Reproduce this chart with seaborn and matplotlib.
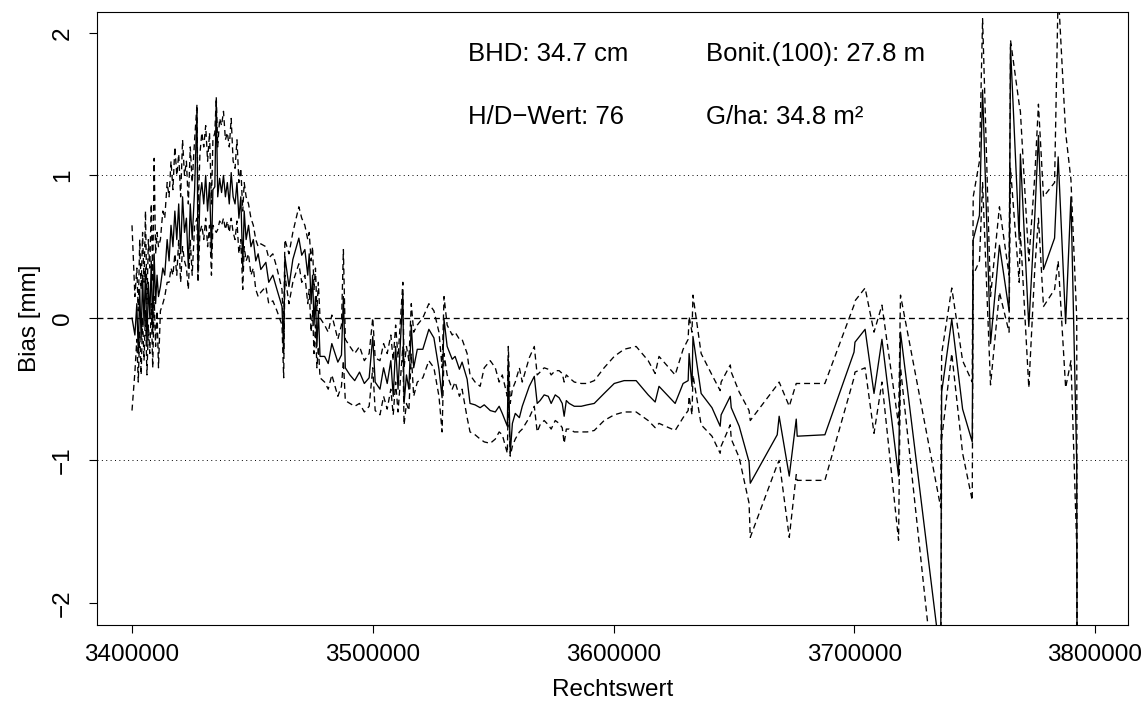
import numpy as np
import pandas as pd
import matplotlib
matplotlib.use("Agg")
import matplotlib.pyplot as plt
import seaborn as sns

# ---- data ----
rechtswert = [3400000, 3401200, 3402000, 3402600, 3403200, 3403800, 3404400, 3405000, 3405600, 3406200,
              3406800, 3407400, 3408000, 3408600, 3409200, 3409800, 3410400, 3411000, 3411800, 3412800,
              3413600, 3414600, 3415400, 3416200, 3417000, 3417800, 3418600, 3419400, 3420200, 3421000,
              3421800, 3422600, 3423400, 3424200, 3425000, 3426000, 3427000, 3427400, 3428200, 3429000,
              3429800, 3430600, 3431400, 3432200, 3433000, 3433600, 3434400, 3435000, 3435600, 3436400,
              3437200, 3438000, 3438800, 3439600, 3440400, 3441200, 3442000, 3442800, 3443600, 3444400,
              3445200, 3446000, 3446600, 3447400, 3448400, 3449400, 3450400, 3451400, 3452400, 3453500,
              3455600, 3456800, 3458500, 3460200, 3462300, 3463000, 3463500, 3465200, 3466800, 3469300,
              3470500, 3471800, 3473000, 3473600, 3474400, 3475000, 3475600, 3476200, 3476800, 3477400,
              3478100, 3480000, 3481500, 3483000, 3485500, 3487000, 3487800, 3488600, 3490500, 3492500,
              3494500, 3496500, 3498500, 3500000, 3501000, 3503000, 3504500, 3506000, 3507500, 3508500,
              3509500, 3510500, 3512500, 3513000, 3514000, 3515000, 3516000, 3517000, 3518500, 3520800,
              3523300, 3525400, 3527500, 3528800, 3529600, 3530900, 3533000, 3534200, 3536000, 3537100,
              3539200, 3540400, 3542500, 3544600, 3546300, 3548800, 3550900, 3552500, 3553800, 3555900,
              3556300, 3557100, 3558000, 3559200, 3560900, 3562100, 3565000, 3567100, 3568300, 3569500,
              3571200, 3572900, 3574100, 3575800, 3577400, 3578700, 3579500, 3580400, 3581600, 3583700,
              3586600, 3589100, 3592000, 3596100, 3600300, 3604400, 3609400, 3614400, 3617300, 3618900,
              3625600, 3628900, 3631000, 3631400, 3632600, 3633000, 3636400, 3640900, 3644300, 3644700,
              3648500, 3648900, 3652200, 3656300, 3656800, 3668000, 3668800, 3673000, 3675900, 3676300,
              3687800, 3699900, 3700300, 3704500, 3708200, 3711500, 3718400, 3719200, 3735900, 3736300,
              3740500, 3745000, 3749000, 3749400, 3752000, 3753300, 3756600, 3760300, 3764300, 3764900,
              3768500, 3769000, 3772500, 3775000, 3776500, 3778600, 3783200, 3784700, 3787800, 3790000,
              3792400, 3792600]

bias = [0.00, -0.12, 0.10, -0.25, 0.20, -0.15, 0.30, -0.05, 0.35, -0.20,
        0.25, 0.00, 0.40, -0.10, 0.45, 0.10, 0.30, 0.15, 0.22, 0.35,
        0.30, 0.55, 0.40, 0.65, 0.50, 0.75, 0.55, 0.80, 0.45, 0.85,
        0.60, 0.70, 0.35, 0.80, 0.55, 0.90, 1.47, 0.32, 0.85, 0.95,
        0.80, 1.00, 0.75, 0.95, 0.45, 0.90, 0.92, 1.53, 0.85, 0.98,
        0.88, 1.00, 0.85, 0.95, 0.80, 1.02, 0.85, 0.80, 0.95, 0.70,
        0.85, 0.35, 0.75, 0.55, 0.65, 0.50, 0.55, 0.40, 0.45, 0.34,
        0.39, 0.25, 0.30, 0.20, 0.08, -0.25, 0.43, 0.22, 0.41, 0.56,
        0.44, 0.48, 0.30, 0.45, 0.10, 0.30, -0.05, 0.15, -0.20, 0.05,
        -0.27, -0.27, -0.32, -0.18, -0.31, -0.26, 0.15, -0.35, -0.40, -0.44,
        -0.38, -0.46, -0.42, -0.13, -0.45, -0.50, -0.35, -0.46, -0.30, -0.55,
        -0.20, -0.50, 0.17, -0.60, -0.40, -0.50, -0.05, -0.35, -0.22, -0.22,
        -0.08, -0.14, -0.36, -0.56, -0.01, -0.20, -0.29, -0.27, -0.36, -0.31,
        -0.43, -0.60, -0.61, -0.63, -0.61, -0.65, -0.66, -0.62, -0.67, -0.76,
        -0.29, -0.95, -0.74, -0.67, -0.70, -0.62, -0.48, -0.41, -0.60, -0.58,
        -0.54, -0.55, -0.60, -0.54, -0.56, -0.60, -0.69, -0.58, -0.60, -0.62,
        -0.62, -0.61, -0.60, -0.53, -0.46, -0.44, -0.44, -0.54, -0.59, -0.48,
        -0.60, -0.46, -0.44, -0.25, -0.48, -0.13, -0.53, -0.63, -0.76, -0.68,
        -0.55, -0.63, -0.76, -1.01, -1.16, -0.82, -0.69, -1.11, -0.71, -0.83,
        -0.82, -0.24, -0.17, -0.08, -0.53, -0.15, -1.11, -0.10, -2.40, -0.52,
        -0.01, -0.64, -0.87, 0.55, 0.72, 1.60, -0.18, 0.51, 0.05, 1.90,
        0.55, 1.15, -0.06, 0.72, 1.28, 0.34, 0.56, 1.13, -0.04, 0.85,
        -1.01, -3.00]

upper = [0.65, 0.15, 0.35, 0.05, 0.55, 0.20, 0.60, 0.25, 0.75, 0.10,
         0.55, 0.35, 0.80, 0.25, 1.12, 0.45, 0.60, 0.50, 0.55, 0.75,
         0.70, 0.95, 0.85, 1.10, 0.90, 1.20, 1.00, 1.15, 0.85, 1.25,
         1.00, 1.10, 0.80, 1.20, 0.95, 1.25, 1.50, 0.70, 1.15, 1.30,
         1.20, 1.35, 1.10, 1.30, 0.80, 1.25, 1.30, 1.55, 1.20, 1.40,
         1.35, 1.45, 1.25, 1.30, 1.20, 1.40, 1.10, 1.05, 1.25, 0.95,
         1.05, 0.75, 0.95, 0.85, 0.80, 0.70, 0.65, 0.55, 0.50, 0.52,
         0.50, 0.42, 0.45, 0.35, 0.20, -0.10, 0.55, 0.45, 0.60, 0.78,
         0.70, 0.65, 0.55, 0.60, 0.40, 0.50, 0.20, 0.35, 0.05, 0.25,
         0.00, -0.05, -0.10, 0.02, -0.15, -0.05, 0.48, -0.15, -0.20, -0.25,
         -0.20, -0.30, -0.25, 0.00, -0.28, -0.30, -0.18, -0.25, -0.12, -0.30,
         -0.05, -0.28, 0.25, -0.35, -0.20, -0.30, 0.10, -0.10, -0.05, 0.00,
         0.10, 0.05, -0.10, -0.35, 0.15, -0.05, -0.12, -0.10, -0.15, -0.15,
         -0.25, -0.40, -0.45, -0.48, -0.35, -0.30, -0.35, -0.45, -0.40, -0.55,
         -0.20, -0.60, -0.50, -0.45, -0.35, -0.45, -0.28, -0.20, -0.40, -0.38,
         -0.35, -0.36, -0.40, -0.37, -0.37, -0.39, -0.45, -0.40, -0.42, -0.45,
         -0.46, -0.46, -0.44, -0.35, -0.27, -0.22, -0.20, -0.30, -0.39, -0.27,
         -0.40, -0.22, -0.15, 0.01, -0.10, 0.16, -0.25, -0.40, -0.51, -0.45,
         -0.33, -0.38, -0.52, -0.65, -0.72, -0.47, -0.45, -0.62, -0.46, -0.46,
         -0.46, 0.09, 0.12, 0.21, -0.10, 0.09, -0.75, 0.16, -1.33, -0.25,
         0.21, -0.30, -0.45, 0.85, 1.10, 2.10, 0.15, 0.78, 0.30, 1.95,
         1.50, 1.45, 0.40, 1.00, 1.50, 0.85, 0.95, 2.30, 1.30, 0.97,
         0.00, -2.50]

lower = [-0.65, -0.38, -0.15, -0.45, -0.10, -0.40, 0.00, -0.30, 0.05, -0.40,
         -0.05, -0.25, 0.10, -0.35, 0.15, -0.20, 0.05, -0.35, 0.05, 0.10,
         0.15, 0.25, 0.25, 0.35, 0.30, 0.45, 0.30, 0.55, 0.25, 0.50,
         0.40, 0.35, 0.20, 0.55, 0.30, 0.65, 0.70, 0.25, 0.60, 0.65,
         0.55, 0.70, 0.50, 0.65, 0.30, 0.65, 0.62, 0.60, 0.62, 0.68,
         0.65, 0.70, 0.62, 0.68, 0.60, 0.70, 0.60, 0.55, 0.68, 0.45,
         0.55, 0.20, 0.50, 0.40, 0.45, 0.30, 0.35, 0.20, 0.15, 0.18,
         0.22, 0.10, 0.12, 0.05, -0.05, -0.42, 0.30, 0.10, 0.25, 0.38,
         0.25, 0.30, 0.10, 0.20, -0.10, 0.05, -0.25, -0.05, -0.35, -0.20,
         -0.42, -0.45, -0.50, -0.40, -0.55, -0.48, -0.30, -0.58, -0.60, -0.62,
         -0.60, -0.66, -0.62, -0.35, -0.65, -0.68, -0.55, -0.64, -0.50, -0.68,
         -0.45, -0.66, -0.20, -0.75, -0.60, -0.65, -0.25, -0.55, -0.45, -0.42,
         -0.30, -0.35, -0.55, -0.80, -0.25, -0.40, -0.50, -0.45, -0.55, -0.50,
         -0.70, -0.80, -0.82, -0.85, -0.87, -0.88, -0.85, -0.80, -0.82, -0.95,
         -0.55, -0.97, -0.90, -0.85, -0.80, -0.78, -0.70, -0.62, -0.80, -0.75,
         -0.72, -0.75, -0.78, -0.72, -0.74, -0.77, -0.88, -0.78, -0.78, -0.80,
         -0.80, -0.80, -0.79, -0.72, -0.68, -0.66, -0.66, -0.72, -0.77, -0.74,
         -0.79, -0.70, -0.65, -0.55, -0.68, -0.40, -0.75, -0.83, -0.95, -0.90,
         -0.75, -0.85, -0.98, -1.30, -1.54, -1.03, -1.00, -1.54, -1.10, -1.14,
         -1.14, -0.42, -0.38, -0.35, -0.81, -0.45, -1.56, -0.35, -3.00, -0.85,
         -0.25, -0.95, -1.28, 0.30, 0.40, 0.95, -0.47, 0.18, -0.10, 1.05,
         0.25, 0.60, -0.49, 0.35, 0.70, 0.08, 0.20, 0.40, -0.49, -0.30,
         -1.60, -3.50]

x_ticks = [3400000, 3500000, 3600000, 3700000, 3800000]
y_ticks = [-2, -1, 0, 1, 2]
annotations = [("BHD: 34.7 cm", 3539600, 1.85), ("Bonit.(100): 27.8 m", 3638400, 1.85),
               ("H/D\u2212Wert: 76", 3539600, 1.41), ("G/ha: 34.8 m\u00b2", 3638400, 1.41)]

df = pd.DataFrame({"Rechtswert": rechtswert, "bias": bias, "upper": upper, "lower": lower})

sns.set_style("ticks")
plt.rcParams["font.family"] = ["Liberation Sans", "DejaVu Sans"]
plt.rcParams["text.color"] = "black"
plt.rcParams["axes.labelcolor"] = "black"
FS = 18.5
TFS = 17.5

fig = plt.figure(figsize=(11.42, 7.06), dpi=100)
ax = fig.add_axes([97 / 1142, 1 - 625 / 706, (1128 - 97) / 1142, (625 - 12) / 706])

dash = (0, (4.5, 3.0))
sns.lineplot(data=df, x="Rechtswert", y="upper", ax=ax, sort=False, estimator=None,
             color="black", linewidth=0.95, linestyle=dash)
sns.lineplot(data=df, x="Rechtswert", y="lower", ax=ax, sort=False, estimator=None,
             color="black", linewidth=0.95, linestyle=dash)
sns.lineplot(data=df, x="Rechtswert", y="bias", ax=ax, sort=False, estimator=None,
             color="black", linewidth=0.95)

ax.axhline(0, color="black", linewidth=0.95, linestyle=(0, (4.5, 3.0)))
ax.axhline(1, color="black", linewidth=0.7, linestyle=(0, (1, 3.5)))
ax.axhline(-1, color="black", linewidth=0.7, linestyle=(0, (1, 3.5)))

ax.set_xlim(3385460, 3813700)
ax.set_ylim(-2.155, 2.147)
ax.set_xticks(x_ticks)
ax.set_xticklabels([str(v) for v in x_ticks])
ax.set_yticks(y_ticks)
ax.set_yticklabels([str(v).replace("-", "\u2212") for v in y_ticks], rotation=90, va="center")

for s in ax.spines.values():
    s.set_visible(True)
    s.set_linewidth(0.8)
    s.set_color("black")

ax.tick_params(axis="both", direction="out", length=5.5, width=0.8, colors="black",
               labelsize=TFS)
ax.tick_params(axis="x", pad=8)
ax.tick_params(axis="y", pad=11)

ax.set_xlabel("Rechtswert", fontsize=TFS, color="black")
ax.set_ylabel("Bias [mm]", fontsize=TFS, color="black")
ax.xaxis.set_label_coords(0.5, -0.088)
ax.yaxis.set_label_coords(-0.054, 0.5)

for txt, xv, yv in annotations:
    ax.text(xv, yv, txt, fontsize=FS, ha="left", va="center", color="black")

fig.savefig("out.png", dpi=100)
